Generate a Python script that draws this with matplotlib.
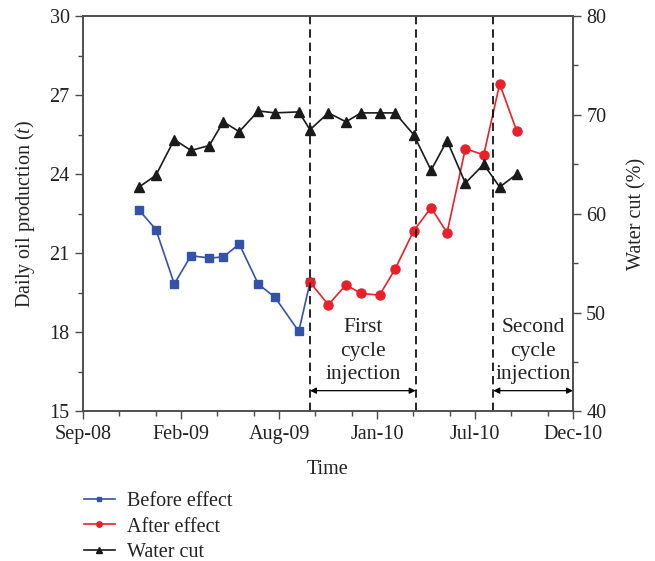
import matplotlib
matplotlib.use("Agg")
import matplotlib.pyplot as plt
import numpy as np

plt.rcParams["font.family"] = ["Liberation Serif", "DejaVu Serif"]
plt.rcParams["mathtext.fontset"] = "custom"
plt.rcParams["mathtext.it"] = "Liberation Serif:italic"

# x in months since Sep-08
before_x = [3.09, 4.02, 5.03, 5.95, 6.96, 7.73, 8.61, 9.66, 10.58, 11.89, 12.51]
before_oil = [22.64, 21.90, 19.84, 20.91, 20.82, 20.86, 21.35, 19.83, 19.33, 18.04, 19.90]

after_x = [12.51, 13.52, 14.49, 15.32, 16.34, 17.19, 18.22, 19.18, 20.06, 21.07, 22.08, 22.96, 23.90]
after_oil = [19.90, 19.05, 19.80, 19.48, 19.41, 20.39, 21.85, 22.73, 21.78, 24.97, 24.73, 27.42, 25.64]

wc_x = before_x + after_x[1:]
water_cut = [62.7, 63.9, 67.5, 66.4, 66.9, 69.3, 68.3, 70.4, 70.2, 70.3, 68.5,
             70.2, 69.3, 70.2, 70.2, 70.2, 68.0, 64.4, 67.4, 63.1, 65.0, 62.7, 64.0]

tick_labels = ["Sep-08", "Feb-09", "Aug-09", "Jan-10", "Jul-10", "Dec-10"]
injection_bounds = [12.51, 18.33, 22.61]

spine_c = "#4a4a4a"
txt_c = "#222222"
fs = 14.5

fig = plt.figure(figsize=(6.55, 5.61), dpi=100)
ax = fig.add_axes([0.1267, 0.2665, 0.7481, 0.705])
ax2 = ax.twinx()

ax.plot(before_x, before_oil, color="#3453a8", marker="s", ms=5.5, lw=1.2, label="Before effect")
ax.plot(after_x, after_oil, color="#e8202a", marker="o", ms=6.5, lw=1.2, label="After effect")
ax2.plot(wc_x, water_cut, color="#1a1a1a", marker="^", ms=7, lw=1.2, label="Water cut")

for xb in injection_bounds:
    ax.axvline(xb, color="black", lw=1.2, ls=(0, (5, 3)))

arrow_y = 15.79
ax.annotate("", xy=(injection_bounds[0], arrow_y), xytext=(injection_bounds[1], arrow_y),
            arrowprops=dict(arrowstyle="<|-|>", color="black", lw=0.9, mutation_scale=9,
                            shrinkA=0, shrinkB=0))
ax.annotate("", xy=(injection_bounds[2], arrow_y), xytext=(27, arrow_y),
            arrowprops=dict(arrowstyle="<|-|>", color="black", lw=0.9, mutation_scale=9,
                            shrinkA=0, shrinkB=0))
ax.text((injection_bounds[0] + injection_bounds[1]) / 2, 16.04, "First\ncycle\ninjection",
        ha="center", va="bottom", fontsize=15.5, color=txt_c, linespacing=1.32)
ax.text((injection_bounds[2] + 27) / 2, 16.04, "Second\ncycle\ninjection",
        ha="center", va="bottom", fontsize=15.5, color=txt_c, linespacing=1.32)

ax.set_xlim(0, 27)
ax.set_ylim(15, 30)
ax2.set_ylim(40, 80)

major = np.linspace(0, 27, 6)
ax.set_xticks(major)
ax.set_xticklabels(tick_labels)
ax.set_xticks([m + d for m in major[:-1] for d in (2, 4)], minor=True)
ax.set_yticks(np.arange(15, 31, 3))
ax.set_yticks(np.arange(15, 30, 1.5), minor=True)
ax2.set_yticks(np.arange(40, 81, 10))
ax2.set_yticks(np.arange(40, 80, 5), minor=True)

for a in (ax, ax2):
    for s in a.spines.values():
        s.set_color(spine_c)
        s.set_linewidth(1.1)
    a.tick_params(which="major", length=6, width=1.0, color=spine_c, labelsize=fs,
                  labelcolor=txt_c, pad=3.5)
    a.tick_params(which="minor", length=3.5, width=1.0, color=spine_c)

ax.set_xlabel("Time", fontsize=fs, color=txt_c, labelpad=12)
ax.set_ylabel("Daily oil production ($t$)", fontsize=fs, color=txt_c, labelpad=9)
ax2.set_ylabel("Water cut (%)", fontsize=fs, color=txt_c, labelpad=15)

h1, l1 = ax.get_legend_handles_labels()
h2, l2 = ax2.get_legend_handles_labels()
leg = fig.legend(h1 + h2, l1 + l2, loc="upper left", bbox_to_anchor=(0.128, 0.1225),
                 bbox_transform=fig.transFigure, frameon=False, fontsize=fs,
                 handlelength=1.55, markerscale=0.6, labelspacing=0.3, handletextpad=0.6,
                 borderpad=0, borderaxespad=0)
for t in leg.get_texts():
    t.set_color(txt_c)

fig.savefig("out.png", dpi=100)
